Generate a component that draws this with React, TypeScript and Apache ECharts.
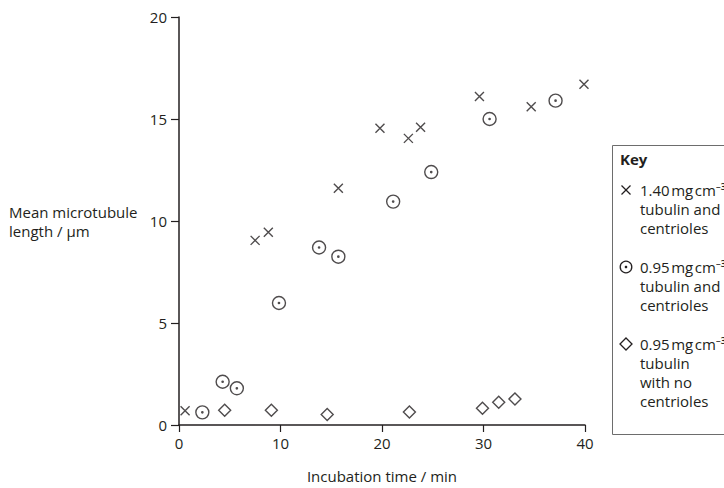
import React, { useEffect, useRef } from "react";
import * as echarts from "echarts";

// Incubation time (min) and mean microtubule length (µm)
const crossTime = [0.6, 7.5, 8.8, 15.7, 19.8, 22.6, 23.8, 29.6, 34.7, 39.9];
const crossLength = [0.7, 9.05, 9.45, 11.6, 14.55, 14.05, 14.6, 16.1, 15.6, 16.7];

const dotTime = [2.3, 4.3, 5.7, 9.85, 13.8, 15.7, 21.1, 24.85, 30.6, 37.1];
const dotLength = [0.62, 2.12, 1.8, 5.98, 8.7, 8.25, 10.95, 12.4, 15.0, 15.9];

const diamondTime = [4.5, 9.1, 14.6, 22.7, 29.9, 31.5, 33.1];
const diamondLength = [0.72, 0.72, 0.52, 0.64, 0.82, 1.12, 1.28];

const xTicks = [0, 10, 20, 30, 40];
const yTicks = [0, 5, 10, 15, 20];

const keyLabels = [
  "1.40\u200Amg\u200Acm\u207B\u00B3\ntubulin and\ncentrioles",
  "0.95\u200Amg\u200Acm\u207B\u00B3\ntubulin and\ncentrioles",
  "0.95\u200Amg\u200Acm\u207B\u00B3\ntubulin\nwith no\ncentrioles",
];

const FONT = "'Open Sans', 'Noto Sans', sans-serif";
const INK = "#231f20";

const zip = (a: number[], b: number[]) => a.map((v, i) => [v, b[i]]);

const CROSS = "path://M0,0L10,10M0,10L10,0";
const CIRCLE_DOT =
  "path://M0,-6A6,6 0 1,1 0,6A6,6 0 1,1 0,-6Z M0,-0.6A0.6,0.6 0 1,1 0,0.6A0.6,0.6 0 1,1 0,-0.6Z";

export default function App() {
  const ref = useRef<HTMLDivElement>(null);
  useEffect(() => {
    if (!ref.current) return;
    const chart = echarts.init(ref.current, undefined, { renderer: "svg" });
    const kx = 626;
    const tx = 640;
    const rows = [190, 267, 344];
    const option: any = {
      animation: false,
      backgroundColor: "#fff",
      textStyle: { fontFamily: FONT, color: INK },
      grid: { left: 179, right: 139, top: 17, bottom: 63 },
      xAxis: {
        type: "value",
        min: xTicks[0],
        max: xTicks[xTicks.length - 1],
        interval: 10,
        name: "Incubation time / min",
        nameLocation: "middle",
        nameGap: 43,
        nameTextStyle: { fontFamily: FONT, fontSize: 15, color: INK },
        axisLine: { lineStyle: { color: INK, width: 1.5 } },
        axisTick: { show: true, length: 7, lineStyle: { color: INK, width: 1.2 } },
        axisLabel: { fontFamily: FONT, fontSize: 15, color: INK, margin: 10 },
        splitLine: { show: false },
      },
      yAxis: {
        type: "value",
        min: yTicks[0],
        max: yTicks[yTicks.length - 1],
        interval: 5,
        name: "Mean microtubule\nlength / \u03BCm",
        nameLocation: "middle",
        nameRotate: 0,
        nameGap: 170,
        nameTextStyle: {
          fontFamily: FONT,
          fontSize: 15,
          color: INK,
          align: "left",
          verticalAlign: "middle",
          lineHeight: 19,
          padding: [5, 0, 0, 0],
        },
        axisLine: { show: true, lineStyle: { color: INK, width: 1.5 } },
        axisTick: { show: true, length: 8, lineStyle: { color: INK, width: 1.2 } },
        axisLabel: { fontFamily: FONT, fontSize: 15, color: INK, margin: 12 },
        splitLine: { show: false },
      },
      series: [
        {
          name: keyLabels[0],
          type: "scatter",
          data: zip(crossTime, crossLength),
          symbol: CROSS,
          symbolSize: 9,
          itemStyle: { color: "rgba(0,0,0,0)", borderColor: INK, borderWidth: 1.4 },
          emphasis: { disabled: true },
        },
        {
          name: keyLabels[1],
          type: "scatter",
          data: zip(dotTime, dotLength),
          symbol: CIRCLE_DOT,
          symbolSize: 13,
          itemStyle: { color: "rgba(0,0,0,0)", borderColor: INK, borderWidth: 1.4 },
          emphasis: { disabled: true },
        },
        {
          name: keyLabels[2],
          type: "scatter",
          data: zip(diamondTime, diamondLength),
          symbol: "diamond",
          symbolSize: 12,
          itemStyle: { color: "rgba(0,0,0,0)", borderColor: INK, borderWidth: 1.4 },
          emphasis: { disabled: true },
        },
      ],
      graphic: [
        {
          type: "rect",
          shape: { x: 612.5, y: 145.5, width: 200, height: 289 },
          style: { fill: "#fff", stroke: "#6d6d6d", lineWidth: 1 },
          z: 10,
        },
        {
          type: "text",
          x: 620,
          y: 159,
          z: 11,
          style: {
            text: "Key",
            font: `bold 15px ${FONT}`,
            fill: INK,
            verticalAlign: "middle",
          },
        },
        // cross
        {
          type: "line",
          z: 11,
          shape: { x1: kx - 4.5, y1: rows[0] - 4.5, x2: kx + 4.5, y2: rows[0] + 4.5 },
          style: { stroke: INK, lineWidth: 1.3 },
        },
        {
          type: "line",
          z: 11,
          shape: { x1: kx - 4.5, y1: rows[0] + 4.5, x2: kx + 4.5, y2: rows[0] - 4.5 },
          style: { stroke: INK, lineWidth: 1.3 },
        },
        // circled dot
        {
          type: "circle",
          z: 11,
          shape: { cx: kx, cy: rows[1], r: 5.8 },
          style: { fill: "none", stroke: INK, lineWidth: 1.3 },
        },
        {
          type: "circle",
          z: 11,
          shape: { cx: kx, cy: rows[1], r: 1.3 },
          style: { fill: INK },
        },
        // diamond
        {
          type: "polygon",
          z: 11,
          shape: {
            points: [
              [kx, rows[2] - 6],
              [kx + 6, rows[2]],
              [kx, rows[2] + 6],
              [kx - 6, rows[2]],
            ],
          },
          style: { fill: "none", stroke: INK, lineWidth: 1.3 },
        },
        ...keyLabels.map((t, i) => ({
          type: "text",
          x: tx,
          y: rows[i] - 9.5,
          z: 11,
          style: {
            text: t,
            font: `15px ${FONT}`,
            fill: INK,
            lineHeight: 19,
            verticalAlign: "top",
          },
        })),
      ],
    };
    chart.setOption(option);
    return () => chart.dispose();
  }, []);
  return <div ref={ref} style={{ width: 724, height: 488, position: "absolute", left: 0, top: 0 }} />;
}
